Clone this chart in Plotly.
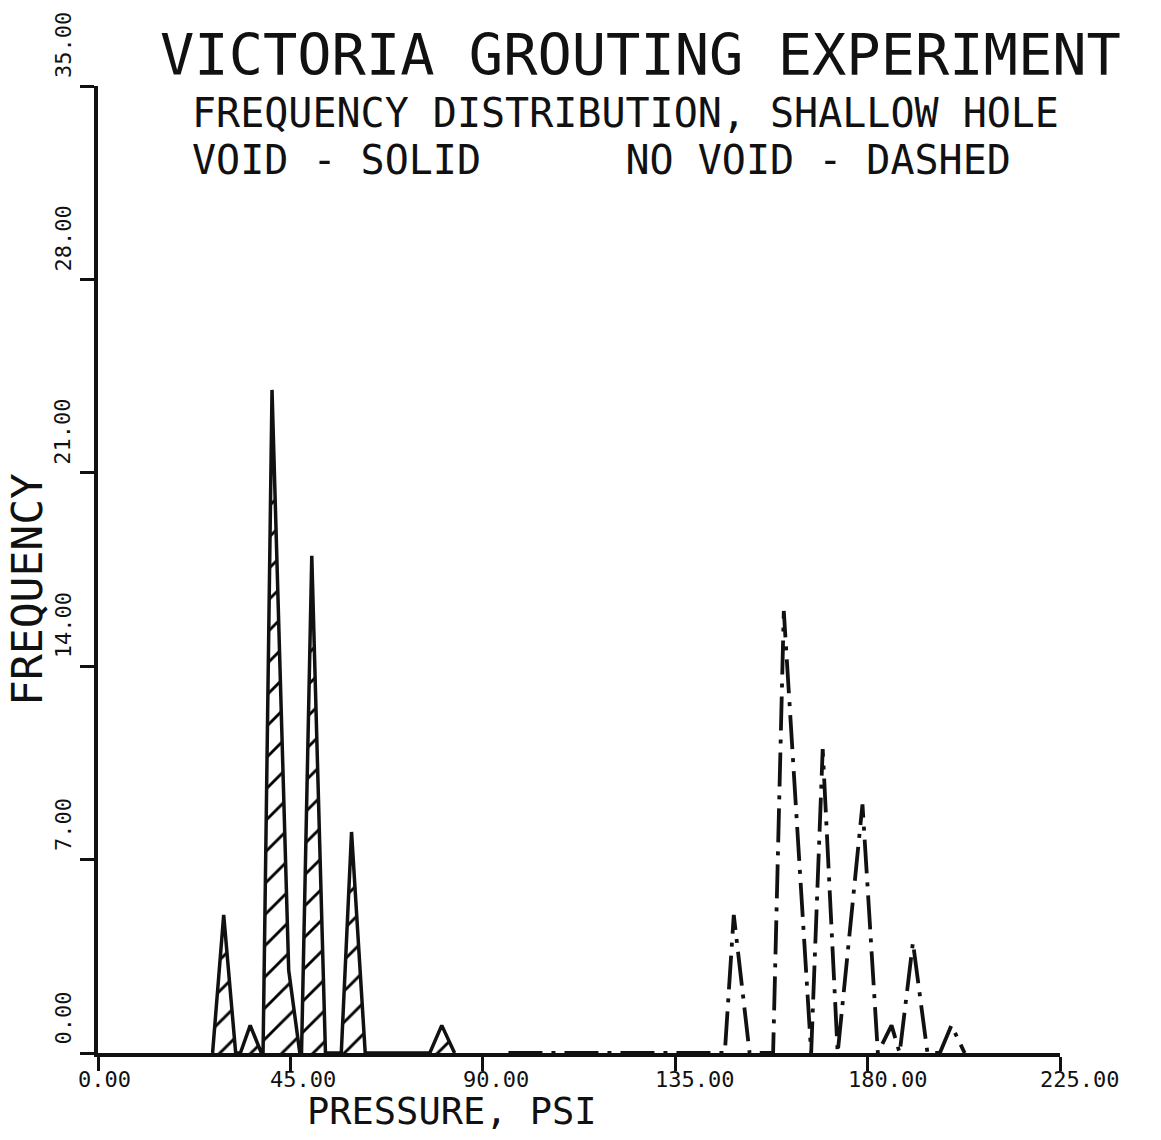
import plotly.graph_objects as go

# ---- data ----
void_pressure = [26.8, 29.4, 32.2, 33.3, 35.6, 38.2, 38.6, 40.7, 44.6, 47.2, 47.6,
                 50.0, 53.2, 56.9, 59.3, 62.5, 77.6, 80.4, 83.4]
void_freq = [0, 5, 0, 0, 1, 0, 0, 24, 3, 0, 0, 18, 0, 0, 8, 0, 0, 1, 0]

novoid_pressure = [96.0, 146.6, 148.7, 152.4, 157.9, 160.4, 166.8, 169.5, 173.0,
                   178.8, 182.4, 185.6, 187.5, 190.6, 194.0, 196.9, 199.6, 202.7]
novoid_freq = [0, 0, 5, 0, 0, 16, 0, 11, 0, 9, 0, 1, 0, 4, 0, 0, 1, 0]

x_ticks = [0, 45, 90, 135, 180, 225]
x_tick_labels = ["0.00", "45.00", "90.00", "135.00", "180.00", "225.00"]
y_ticks = [0, 7, 14, 21, 28, 35]
y_tick_labels = ["0.00", "7.00", "14.00", "21.00", "28.00", "35.00"]

title_lines = ["VICTORIA GROUTING EXPERIMENT",
               "FREQUENCY DISTRIBUTION, SHALLOW HOLE",
               "VOID - SOLID      NO VOID - DASHED"]
x_title = "PRESSURE, PSI"
y_title = "FREQUENCY"

FONT = "DejaVu Sans Mono"
INK = "#111111"

W, H = 1161, 1140
L, R, T, B = 98, 101, 86, 87


def px_to_paper(px, py):
    return (px - L) / (W - L - R), (H - B - py) / (H - T - B)


fig = go.Figure()

fig.add_trace(go.Scatter(
    x=void_pressure, y=void_freq, mode="lines",
    line=dict(color=INK, width=3.5),
    fill="tozeroy", fillcolor="white",
    fillpattern=dict(shape="/", fgcolor="black", bgcolor="white", fgopacity=1,
                     size=22, solidity=0.13),
    showlegend=False, hoverinfo="skip",
))

fig.add_trace(go.Scatter(
    x=novoid_pressure, y=novoid_freq, mode="lines",
    line=dict(color=INK, width=3.8, dash="34px,9px,4px,9px"),
    showlegend=False, hoverinfo="skip",
))

annotations = []
# x tick labels
for v, t in zip(x_ticks, x_tick_labels):
    annotations.append(dict(x=v, y=0, xref="x", yref="y", text=t, showarrow=False,
                            xanchor="left", yanchor="top", xshift=-22, yshift=-12,
                            font=dict(family=FONT, size=22, color=INK)))
# y tick labels (rotated, starting just above the tick)
for v, t in zip(y_ticks, y_tick_labels):
    annotations.append(dict(x=0, y=v, xref="paper", yref="y", text=t, showarrow=False,
                            textangle=-90, xanchor="center", yanchor="bottom",
                            xshift=-35, yshift=6,
                            font=dict(family=FONT, size=22, color=INK)))

# title lines (pixel anchor positions from the reference)
title_pos = [(158, 55, 57), (190, 113, 40), (190, 160, 40)]
for (px, py, sz), line in zip(title_pos, title_lines):
    x, y = px_to_paper(px, py)
    annotations.append(dict(x=x, y=y, xref="paper", yref="paper",
                            text=line.replace(" ", "&nbsp;"), showarrow=False,
                            xanchor="left", yanchor="middle",
                            font=dict(family=FONT, size=sz, color=INK)))

x, y = px_to_paper(452, 1111)
annotations.append(dict(x=x, y=y, xref="paper", yref="paper",
                        text=x_title.replace(" ", "&nbsp;"), showarrow=False,
                        xanchor="center", yanchor="middle",
                        font=dict(family=FONT, size=37, color=INK)))
x, y = px_to_paper(27, 590)
annotations.append(dict(x=x, y=y, xref="paper", yref="paper", text=y_title,
                        textangle=-90, showarrow=False,
                        xanchor="center", yanchor="middle",
                        font=dict(family=FONT, size=43, color=INK)))

fig.update_layout(
    width=W, height=H,
    margin=dict(l=L, r=R, t=T, b=B),
    paper_bgcolor="white", plot_bgcolor="white",
    annotations=annotations,
    xaxis=dict(range=[0, 225], tickvals=x_ticks, showticklabels=False,
               ticks="outside", ticklen=14, tickwidth=3, tickcolor=INK,
               showline=True, linecolor=INK, linewidth=3.5, showgrid=False, zeroline=False),
    yaxis=dict(range=[0, 35], tickvals=y_ticks, showticklabels=False,
               ticks="outside", ticklen=14, tickwidth=3, tickcolor=INK,
               showline=True, linecolor=INK, linewidth=3.5, showgrid=False, zeroline=False),
)

fig.write_html("out.html")
